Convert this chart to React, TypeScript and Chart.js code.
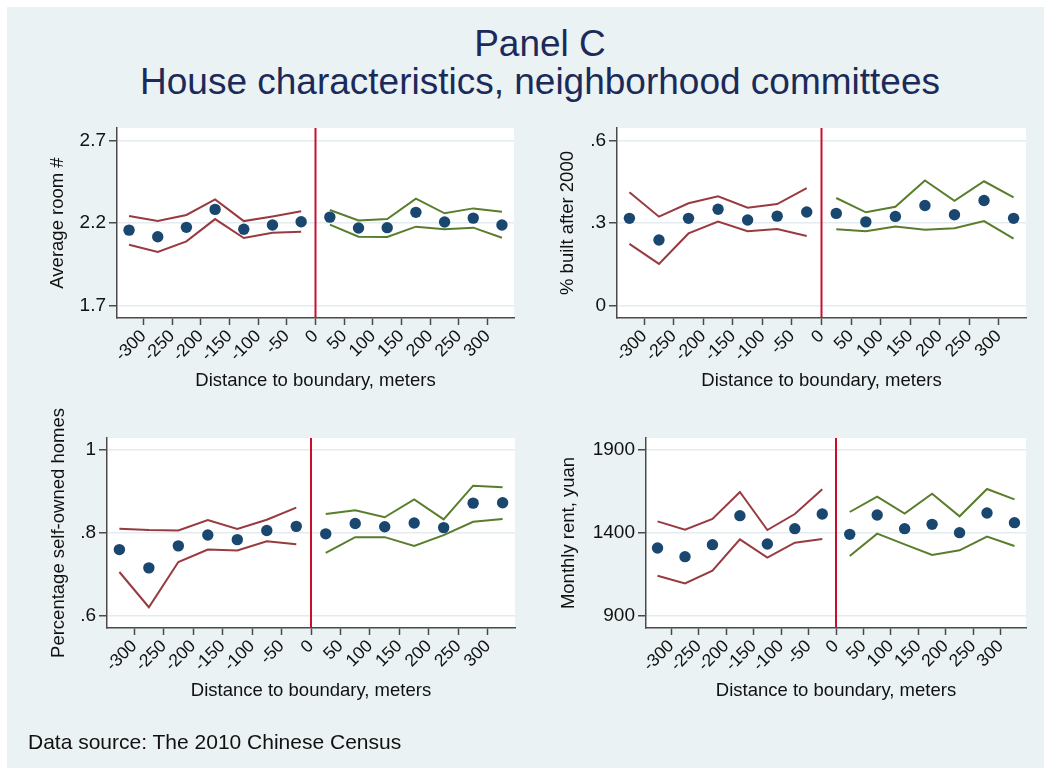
import React, { useEffect, useRef } from 'react';
import { Chart, registerables } from 'chart.js';

Chart.register(...registerables);

// ---------- data ----------
const X_TICKS = [-300, -250, -200, -150, -100, -50, 0, 50, 100, 150, 200, 250, 300];
const BINS_LEFT = [-325, -275, -225, -175, -125, -75, -25];
const BINS_RIGHT = [25, 75, 125, 175, 225, 275, 325];

// Panel: Average room #
const ROOM_TICKS = [1.7, 2.2, 2.7];
const ROOM_TICK_LABELS = ['1.7', '2.2', '2.7'];
const ROOM_EST_L = [2.157, 2.117, 2.174, 2.283, 2.162, 2.188, 2.208];
const ROOM_HI_L = [2.243, 2.212, 2.249, 2.344, 2.212, 2.24, 2.271];
const ROOM_LO_L = [2.068, 2.024, 2.089, 2.224, 2.109, 2.141, 2.147];
const ROOM_EST_R = [2.236, 2.17, 2.172, 2.265, 2.206, 2.23, 2.188];
const ROOM_HI_R = [2.279, 2.216, 2.224, 2.348, 2.259, 2.289, 2.269];
const ROOM_LO_R = [2.19, 2.117, 2.115, 2.178, 2.162, 2.172, 2.111];

// Panel: % built after 2000
const BUILT_TICKS = [0, 0.3, 0.6];
const BUILT_TICK_LABELS = ['0', '.3', '.6'];
const BUILT_EST_L = [0.317, 0.238, 0.317, 0.35, 0.311, 0.325, 0.34];
const BUILT_HI_L = [0.412, 0.323, 0.372, 0.397, 0.356, 0.369, 0.427];
const BUILT_LO_L = [0.224, 0.151, 0.262, 0.305, 0.27, 0.278, 0.253];
const BUILT_EST_R = [0.335, 0.304, 0.324, 0.364, 0.33, 0.382, 0.317];
const BUILT_HI_R = [0.391, 0.339, 0.359, 0.455, 0.381, 0.452, 0.393];
const BUILT_LO_R = [0.277, 0.27, 0.287, 0.275, 0.281, 0.307, 0.243];

// Panel: Percentage self-owned homes
const OWN_TICKS = [0.6, 0.8, 1];
const OWN_TICK_LABELS = ['.6', '.8', '1'];
const OWN_EST_L = [0.76, 0.716, 0.769, 0.795, 0.784, 0.806, 0.816];
const OWN_HI_L = [0.81, 0.807, 0.806, 0.831, 0.81, 0.832, 0.861];
const OWN_LO_L = [0.706, 0.621, 0.73, 0.76, 0.758, 0.78, 0.773];
const OWN_EST_R = [0.798, 0.823, 0.815, 0.824, 0.813, 0.872, 0.873];
const OWN_HI_R = [0.846, 0.855, 0.838, 0.881, 0.833, 0.914, 0.91];
const OWN_LO_R = [0.752, 0.79, 0.79, 0.769, 0.795, 0.827, 0.834];

// Panel: Monthly rent, yuan
const RENT_TICKS = [900, 1400, 1900];
const RENT_TICK_LABELS = ['900', '1400', '1900'];
const RENT_EST_L = [1308, 1256, 1328, 1502, 1332, 1424, 1512];
const RENT_HI_L = [1468, 1418, 1482, 1644, 1416, 1512, 1660];
const RENT_LO_L = [1141, 1095, 1172, 1360, 1250, 1340, 1362];
const RENT_EST_R = [1390, 1506, 1424, 1450, 1400, 1518, 1460];
const RENT_HI_R = [1524, 1616, 1514, 1634, 1498, 1662, 1600];
const RENT_LO_R = [1260, 1394, 1330, 1266, 1294, 1376, 1320];

const X_TITLE = 'Distance to boundary, meters';

// ---------- style / layout ----------
const W = 1051;
const H = 769;
const FONT = '"Liberation Sans", Arial, Helvetica, sans-serif';
const NAVY = '#1a476f';
const MAROON = '#983a3f';
const GREEN = '#5a7d2c';
const VLINE = '#c8102e';
const AXIS = '#4a4a4a';
const GRID = '#e4ecef';
const TEXT = '#111111';
const TITLE_SIZE = 18.5;
const TITLE_LH = TITLE_SIZE * 1.2;
const X_AXIS_H = 78;

const PANELS = [
  {
    yTitle: 'Average room #', ticks: ROOM_TICKS, labels: ROOM_TICK_LABELS, yMin: 1.6236, yMax: 2.777,
    estL: ROOM_EST_L, hiL: ROOM_HI_L, loL: ROOM_LO_L, estR: ROOM_EST_R, hiR: ROOM_HI_R, loR: ROOM_LO_R,
    plotLeft: 117, plotRight: 514, plotTop: 128, plotBottom: 318, titleX: 58,
  },
  {
    yTitle: '% built after 2000', ticks: BUILT_TICKS, labels: BUILT_TICK_LABELS, yMin: -0.046, yMax: 0.646,
    estL: BUILT_EST_L, hiL: BUILT_HI_L, loL: BUILT_LO_L, estR: BUILT_EST_R, hiR: BUILT_HI_R, loR: BUILT_LO_R,
    plotLeft: 617, plotRight: 1026, plotTop: 128, plotBottom: 318, titleX: 568,
  },
  {
    yTitle: 'Percentage self-owned homes', ticks: OWN_TICKS, labels: OWN_TICK_LABELS, yMin: 0.571, yMax: 1.029,
    estL: OWN_EST_L, hiL: OWN_HI_L, loL: OWN_LO_L, estR: OWN_EST_R, hiR: OWN_HI_R, loR: OWN_LO_R,
    plotLeft: 107, plotRight: 515, plotTop: 438, plotBottom: 628, titleX: 59,
  },
  {
    yTitle: 'Monthly rent, yuan', ticks: RENT_TICKS, labels: RENT_TICK_LABELS, yMin: 828, yMax: 1968,
    estL: RENT_EST_L, hiL: RENT_HI_L, loL: RENT_LO_L, estR: RENT_EST_R, hiR: RENT_HI_R, loR: RENT_LO_R,
    plotLeft: 646, plotRight: 1026, plotTop: 438, plotBottom: 628, titleX: 569,
  },
];

const zip = (xs: number[], ys: number[]) => xs.map((x, i) => ({ x, y: ys[i] }));

const whiteArea = {
  id: 'whiteArea',
  beforeDraw(chart: any) {
    const { ctx, chartArea } = chart;
    ctx.save();
    ctx.fillStyle = '#ffffff';
    ctx.fillRect(chartArea.left, chartArea.top, chartArea.right - chartArea.left, chartArea.bottom - chartArea.top);
    ctx.restore();
  },
};

function makeConfig(p: any): any {
  const padLeft = p.titleX - 4 - TITLE_LH / 2;
  const lineDs = (data: any, color: string) => ({
    data, showLine: true, borderColor: color, borderWidth: 2, pointRadius: 0, fill: false, tension: 0,
  });
  return {
    type: 'scatter',
    data: {
      datasets: [
        {
          data: [...zip(BINS_LEFT, p.estL), ...zip(BINS_RIGHT, p.estR)],
          showLine: false, pointRadius: 5.7, pointBackgroundColor: NAVY, pointBorderWidth: 0, pointBorderColor: NAVY,
        },
        lineDs(zip(BINS_LEFT, p.hiL), MAROON),
        lineDs(zip(BINS_LEFT, p.loL), MAROON),
        lineDs(zip(BINS_RIGHT, p.hiR), GREEN),
        lineDs(zip(BINS_RIGHT, p.loR), GREEN),
        lineDs([{ x: 0, y: p.yMin }, { x: 0, y: p.yMax }], VLINE),
      ],
    },
    options: {
      responsive: false,
      animation: false,
      devicePixelRatio: 1,
      events: [],
      layout: {
        padding: { left: padLeft, top: p.plotTop, right: W - p.plotRight, bottom: H - p.plotBottom - X_AXIS_H },
      },
      plugins: { legend: { display: false }, tooltip: { enabled: false } },
      scales: {
        x: {
          type: 'linear', position: 'bottom', min: -346, max: 346,
          afterBuildTicks: (s: any) => { s.ticks = X_TICKS.map((v) => ({ value: v })); },
          afterFit: (s: any) => { s.height = X_AXIS_H; s.paddingLeft = 0; s.paddingRight = 0; },
          ticks: {
            autoSkip: false, minRotation: 45, maxRotation: 45, padding: 1, color: TEXT,
            font: { family: FONT, size: 17.5 },
            callback: (v: any) => String(v),
          },
          grid: { drawOnChartArea: false, drawTicks: true, tickLength: 7, tickColor: AXIS, tickWidth: 1.5 },
          border: { display: true, color: AXIS, width: 1.5 },
          title: { display: true, text: X_TITLE, color: TEXT, font: { family: FONT, size: TITLE_SIZE }, padding: { top: 4, bottom: 4 } },
        },
        y: {
          type: 'linear', position: 'left', min: p.yMin, max: p.yMax,
          afterBuildTicks: (s: any) => { s.ticks = p.ticks.map((v: number) => ({ value: v })); },
          afterFit: (s: any) => { s.width = p.plotLeft - padLeft; s.paddingTop = 0; s.paddingBottom = 0; },
          ticks: {
            padding: 3, color: TEXT, font: { family: FONT, size: 19 },
            callback: (_v: any, i: number) => p.labels[i],
          },
          grid: { color: GRID, lineWidth: 1.5, drawTicks: true, tickLength: 8, tickColor: AXIS, tickWidth: 1.5 },
          border: { display: true, color: AXIS, width: 1.5 },
          title: { display: true, text: p.yTitle, color: TEXT, font: { family: FONT, size: TITLE_SIZE }, padding: { top: 4, bottom: 4 } },
        },
      },
    },
    plugins: [whiteArea],
  };
}

function Panel({ p }: { p: any }) {
  const ref = useRef<HTMLCanvasElement | null>(null);
  useEffect(() => {
    if (!ref.current) return;
    const chart = new Chart(ref.current, makeConfig(p));
    return () => chart.destroy();
  }, [p]);
  return (
    <canvas
      ref={ref}
      width={W}
      height={H}
      style={{ position: 'absolute', left: 0, top: 0, width: W, height: H }}
    />
  );
}

export default function App() {
  return (
    <div style={{ position: 'absolute', left: 0, top: 0, width: W, height: H, background: '#ffffff', overflow: 'hidden' }}>
      <div style={{ position: 'absolute', left: 7, top: 7, width: 1037, height: 761, background: '#eaf2f3' }} />
      <div
        style={{
          position: 'absolute', left: 40, top: 25, width: 1000, textAlign: 'center',
          fontFamily: FONT, fontSize: 37, lineHeight: '38px', color: '#1c2a5a',
        }}
      >
        <div>Panel C</div>
        <div>House characteristics, neighborhood committees</div>
      </div>
      {PANELS.map((p, i) => (
        <Panel key={i} p={p} />
      ))}
      <div
        style={{
          position: 'absolute', left: 28, top: 730.5, whiteSpace: 'nowrap',
          fontFamily: FONT, fontSize: 21, lineHeight: '21px', color: TEXT,
        }}
      >
        Data source: The 2010 Chinese Census
      </div>
    </div>
  );
}
